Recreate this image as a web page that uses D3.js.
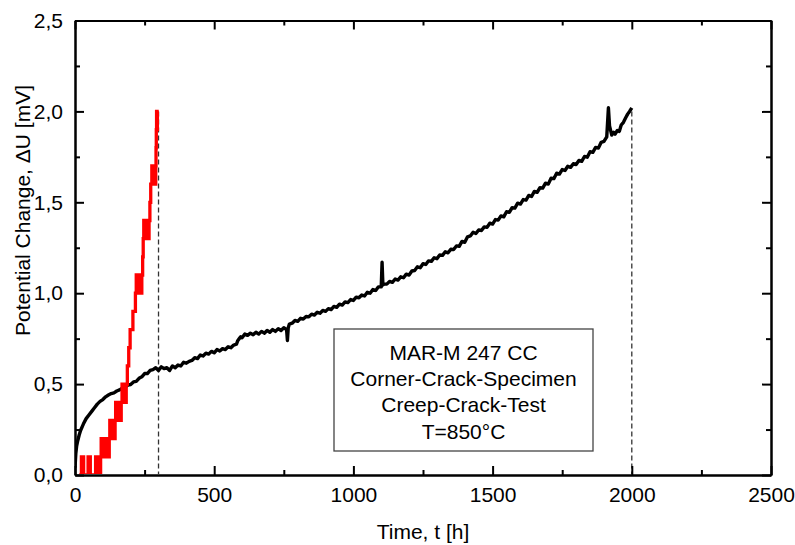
<!DOCTYPE html>
<html>
<head>
<meta charset="utf-8">
<script src="https://cdn.jsdelivr.net/npm/d3@7"></script>
<style>
body{margin:0;background:#fff;}
text{font-family:"Liberation Sans",Arial,sans-serif;fill:#000;}
</style>
</head>
<body>
<script>
// potential drop over time, black = long test, red = short test
var blackT = [0,3,6,10,15,20,30,40,50,60,70,80,90,100,110,120,130,140,150,160,170,180,190,200,210,220,230,240,250,260,270,280,290,
  300,310,320,330,340,350,360,370,380,390,400,410,420,430,440,450,460,470,480,490,500,510,520,530,540,550,560,570,580,585,590,595,600,610,620,630,640,650,660,670,680,690,700,710,720,730,740,750,760,763,766,770,780,790,800,810,820,830,840,850,860,870,880,890,900,910,920,930,940,950,960,970,980,990,
  1000,1010,1020,1030,1040,1050,1060,1070,1080,1090,1100,1103,1106,1110,1120,1130,1140,1150,1160,1170,1180,1190,1200,1210,1220,1230,1240,1250,1260,1270,1280,1290,1300,1310,1320,1330,1340,1350,1360,1370,1380,1390,1400,1410,1420,1430,1440,1450,1460,1470,1480,1490,
  1500,1510,1520,1530,1540,1550,1560,1570,1580,1590,1600,1610,1620,1630,1640,1650,1660,1670,1680,1690,1700,1710,1720,1730,1740,1750,1760,1770,1780,1790,1800,1810,1820,1830,1840,1850,1860,1870,1880,1890,1900,1910,1916,1920,1928,1935,1940,1948,1955,1962,1970,1978,1985,1992,2000];
var blackV = [0.04,0.12,0.16,0.19,0.22,0.245,0.28,0.31,0.33,0.35,0.37,0.39,0.405,0.415,0.43,0.44,0.448,0.452,0.462,0.468,0.478,0.482,0.495,0.498,0.512,0.515,0.532,0.54,0.558,0.558,0.575,0.58,0.59,
  0.575,0.595,0.585,0.59,0.575,0.6,0.59,0.605,0.6,0.62,0.615,0.625,0.63,0.645,0.64,0.66,0.655,0.67,0.665,0.68,0.672,0.69,0.682,0.695,0.69,0.705,0.7,0.715,0.72,0.74,0.75,0.76,0.755,0.775,0.768,0.78,0.772,0.785,0.775,0.79,0.78,0.795,0.785,0.8,0.79,0.805,0.795,0.81,0.8,0.74,0.81,0.83,0.835,0.85,0.845,0.862,0.858,0.872,0.87,0.885,0.88,0.895,0.89,0.905,0.9,0.915,0.91,0.927,0.922,0.94,0.935,0.952,0.948,0.965,
  0.96,0.978,0.975,0.99,0.985,1.005,1.0,1.02,1.015,1.035,1.035,1.17,1.045,1.05,1.05,1.065,1.06,1.078,1.072,1.09,1.085,1.105,1.1,1.122,1.125,1.145,1.14,1.162,1.158,1.178,1.175,1.195,1.19,1.21,1.208,1.228,1.222,1.242,1.24,1.26,1.258,1.285,1.28,1.31,1.315,1.335,1.328,1.348,1.345,1.365,1.362,1.385,
  1.38,1.405,1.402,1.425,1.42,1.448,1.445,1.47,1.468,1.495,1.49,1.515,1.512,1.538,1.532,1.56,1.555,1.58,1.578,1.605,1.6,1.632,1.63,1.66,1.655,1.68,1.675,1.698,1.692,1.712,1.708,1.73,1.725,1.752,1.748,1.778,1.775,1.802,1.798,1.83,1.835,1.86,2.02,1.92,1.87,1.885,1.875,1.895,1.89,1.925,1.94,1.965,1.985,2.0,2.02];

var redT = [15,23,31,47,55,74,81,92,94,97,99,101,103,106,108,111,113,116,118,121,123,125,128,130,133,135,138,140,143,144,146,149,151,154,156,159,161,164,166,169,172,174,177,179,182,184,188,193,198,208,217,220,223,225,228,230,233,235,238,240,243,245,247,250,252,255,257,260,262,265,266,269,272,276,279,281,284,286,289,290,291,292,293,295,296,298];
var redV = [0,0.1,0,0.1,0,0.1,0,0.1,0.2,0.1,0.2,0.1,0.2,0.1,0.2,0.1,0.2,0.1,0.2,0.1,0.2,0.3,0.2,0.3,0.2,0.3,0.2,0.3,0.2,0.3,0.4,0.3,0.4,0.3,0.4,0.3,0.4,0.3,0.4,0.5,0.4,0.5,0.4,0.5,0.4,0.5,0.6,0.7,0.8,0.9,1.0,1.1,1.0,1.1,1.0,1.1,1.0,1.1,1.0,1.1,1.2,1.3,1.4,1.3,1.4,1.3,1.4,1.3,1.4,1.3,1.4,1.5,1.6,1.7,1.6,1.7,1.6,1.7,1.6,1.7,1.8,1.9,2.0,1.9,2.0,2.0];

var xTicks = [0,500,1000,1500,2000,2500];
var yTicks = [0,0.5,1.0,1.5,2.0,2.5];
var endTimes = [300,2000];
var endLevel = 2.0;
var boxLines = ["MAR-M 247 CC","Corner-Crack-Specimen","Creep-Crack-Test","T=850°C"];

var svg = d3.select("body").append("svg")
    .attr("width",795).attr("height",545);

var x = d3.scaleLinear().domain([0,2500]).range([75,771]);
var y = d3.scaleLinear().domain([0,2.5]).range([475,20.5]);

svg.append("clipPath").attr("id","plotClip")
  .append("rect").attr("x",75).attr("y",20.5).attr("width",696).attr("height",453.5);

var plot = svg.append("g").attr("clip-path","url(#plotClip)");

// dashed end markers
plot.selectAll("line.mark").data(endTimes).enter().append("line")
    .attr("class","mark")
    .attr("x1",function(d){return x(d);}).attr("x2",function(d){return x(d);})
    .attr("y1",y(endLevel)).attr("y2",y(0))
    .attr("stroke","#333").attr("stroke-width",1.3).attr("stroke-dasharray","5,3");

var blackData = blackT.map(function(t,i){return [t,blackV[i]];});
var redData = redT.map(function(t,i){return [t,redV[i]];});

plot.append("path").datum(blackData)
    .attr("fill","none").attr("stroke","#000").attr("stroke-width",3.4).attr("stroke-linejoin","round")
    .attr("d",d3.line().x(function(d){return x(d[0]);}).y(function(d){return y(d[1]);}));

plot.append("path").datum(redData)
    .attr("fill","none").attr("stroke","#ff0000").attr("stroke-width",3.3)
    .attr("d",d3.line().curve(d3.curveStepAfter).x(function(d){return x(d[0]);}).y(function(d){return y(d[1]);}));

// text box
var box = svg.append("g");
box.append("rect").attr("x",334).attr("y",329).attr("width",259).attr("height",122)
    .attr("fill","none").attr("stroke","#444").attr("stroke-width",1.3);
box.selectAll("text").data(boxLines).enter().append("text")
    .attr("x",463.5).attr("y",function(d,i){return 359.5+i*26.4;})
    .attr("text-anchor","middle").style("font-size","21px")
    .text(function(d){return d;});

// axes
var fmtY = function(d){return d3.format(".1f")(d).replace(".",",");};
var xMinor = d3.range(250,2500,500);
var yMinor = d3.range(0.25,2.5,0.5);

function styleAxis(g){
  g.select(".domain").attr("stroke","#000").attr("stroke-width",2);
  g.selectAll(".tick line").attr("stroke","#000").attr("stroke-width",2);
  g.selectAll(".tick text").style("font-size","21px").attr("font-family",null);
}

svg.append("g").attr("transform","translate(0,475)")
    .call(d3.axisBottom(x).tickValues(xTicks).tickSize(-9).tickSizeOuter(0).tickPadding(12).tickFormat(d3.format("d")))
    .call(styleAxis);
svg.append("g").attr("transform","translate(0,475)")
    .call(d3.axisBottom(x).tickValues(xMinor).tickSize(-5).tickSizeOuter(0).tickFormat(""))
    .call(styleAxis);
svg.append("g").attr("transform","translate(0,20.5)")
    .call(d3.axisTop(x).tickValues(xTicks).tickSize(-9).tickSizeOuter(0).tickFormat(""))
    .call(styleAxis);
svg.append("g").attr("transform","translate(0,20.5)")
    .call(d3.axisTop(x).tickValues(xMinor).tickSize(-5).tickSizeOuter(0).tickFormat(""))
    .call(styleAxis);

svg.append("g").attr("transform","translate(75,0)")
    .call(d3.axisLeft(y).tickValues(yTicks).tickSize(-9).tickSizeOuter(0).tickPadding(12).tickFormat(fmtY))
    .call(styleAxis);
svg.append("g").attr("transform","translate(75,0)")
    .call(d3.axisLeft(y).tickValues(yMinor).tickSize(-5).tickSizeOuter(0).tickFormat(""))
    .call(styleAxis);
svg.append("g").attr("transform","translate(771,0)")
    .call(d3.axisRight(y).tickValues(yTicks).tickSize(-9).tickSizeOuter(0).tickFormat(""))
    .call(styleAxis);
svg.append("g").attr("transform","translate(771,0)")
    .call(d3.axisRight(y).tickValues(yMinor).tickSize(-5).tickSizeOuter(0).tickFormat(""))
    .call(styleAxis);

// axis titles
svg.append("text").attr("x",423).attr("y",539)
    .attr("text-anchor","middle").style("font-size","21px")
    .text("Time, t [h]");
svg.append("text").attr("transform","translate(30,210.5) rotate(-90)")
    .attr("text-anchor","middle").style("font-size","21px")
    .text("Potential Change, \u0394U [mV]");
</script>
</body>
</html>
